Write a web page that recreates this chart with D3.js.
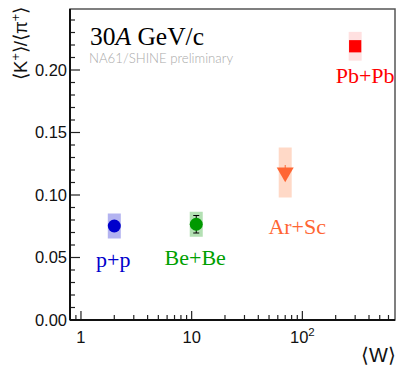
<!DOCTYPE html>
<html>
<head>
<meta charset="utf-8">
<script src="https://cdn.jsdelivr.net/npm/d3@7"></script>
<style>
  html, body { margin: 0; padding: 0; background: #fff; }
  svg { display: block; }
</style>
</head>
<body>
<div id="chart"></div>
<script>
// K+/pi+ ratio vs number of wounded nucleons, 30A GeV/c
const systems = ["p+p", "Be+Be", "Ar+Sc", "Pb+Pb"];
const wValues = [2.0, 11.0, 70, 300];
const ratio = [0.0752, 0.0766, 0.118, 0.219];
const statErr = [0.002, 0.007, 0.006, 0.002];
const sysErr = [0.010, 0.010, 0.020, 0.0115];
const xTickValues = [1, 10, 100];
const yTickValues = [0, 0.05, 0.10, 0.15, 0.20];

const colors = ["#0000cc", "#009900", "#ff6633", "#ff0000"];
const boxColors = ["#b3b3f0", "#b3e0b3", "#ffd9c7", "#ffe0e0"];
const labelColors = ["#0000cc", "#00a000", "#ff6633", "#ff0000"];

const width = 397, height = 367;
const margin = { top: 9, right: 2, bottom: 47, left: 70 };
const iw = width - margin.left - margin.right;
const ih = height - margin.top - margin.bottom;

const svg = d3.select("#chart").append("svg")
  .attr("width", width).attr("height", height);

const g = svg.append("g").attr("transform", `translate(${margin.left},${margin.top})`);

const x = d3.scaleLog().domain([0.796, 687]).range([0, iw]);
const y = d3.scaleLinear().domain([0, 0.2488]).range([ih, 0]);

// frame
g.append("rect")
  .attr("width", iw).attr("height", ih)
  .attr("fill", "none").attr("stroke", "#555").attr("stroke-width", 1.5);

// y axis, ticks pointing inward
const yMinor = d3.range(0, 0.245, 0.01);
g.append("g").selectAll("line").data(yMinor).enter().append("line")
  .attr("x1", 0).attr("x2", (d, i) => i % 5 === 0 ? 10 : 5)
  .attr("y1", d => y(d)).attr("y2", d => y(d))
  .attr("stroke", "#222").attr("stroke-width", 1.2);

g.append("g")
  .call(d3.axisLeft(y).tickValues(yTickValues).tickFormat(d3.format(".2f")).tickSize(0).tickPadding(3))
  .call(a => a.select(".domain").remove())
  .call(a => a.selectAll("text")
    .attr("font-family", "Liberation Sans, Arial, sans-serif")
    .attr("font-size", 16.5).attr("fill", "#111"));

// x axis, log ticks pointing inward
const xMinor = [];
[0.1, 1, 10, 100].forEach(dec => {
  for (let k = 1; k < 10; k++) {
    const v = dec * k;
    if (v >= 0.796 && v <= 687) xMinor.push(v);
  }
});
g.append("g").selectAll("line").data(xMinor).enter().append("line")
  .attr("x1", d => x(d)).attr("x2", d => x(d))
  .attr("y1", ih).attr("y2", d => ih - (xTickValues.includes(d) ? 9 : 5))
  .attr("stroke", "#222").attr("stroke-width", 1.2);

const xLabels = g.append("g").selectAll("text").data(xTickValues).enter().append("text")
  .attr("x", d => x(d)).attr("y", ih + 23)
  .attr("text-anchor", "middle")
  .attr("font-family", "Liberation Sans, Arial, sans-serif")
  .attr("font-size", 16.5).attr("fill", "#111");
xLabels.each(function (d) {
  const t = d3.select(this);
  if (d === 100) {
    t.append("tspan").text("10");
    t.append("tspan").attr("dy", -7).attr("font-size", 11.5).text("2");
  } else {
    t.text(d);
  }
});

// axis lines
g.append("line").attr("x1", 0).attr("x2", 0).attr("y1", 0).attr("y2", ih)
  .attr("stroke", "#111").attr("stroke-width", 2);
g.append("line").attr("x1", 0).attr("x2", iw).attr("y1", ih).attr("y2", ih)
  .attr("stroke", "#111").attr("stroke-width", 2);

// axis titles
svg.append("text")
  .attr("transform", "translate(27,7) rotate(-90)")
  .attr("text-anchor", "end")
  .attr("font-family", "Liberation Sans, Arial, sans-serif")
  .attr("font-size", 18.5).attr("fill", "#111")
  .html('⟨K<tspan dy="-7" font-size="12.5">+</tspan><tspan dy="7">⟩/⟨π</tspan><tspan dy="-7" font-size="12.5">+</tspan><tspan dy="7">⟩</tspan>');

svg.append("text")
  .attr("x", 396).attr("y", 362)
  .attr("text-anchor", "end")
  .attr("font-family", "Liberation Sans, Arial, sans-serif")
  .attr("font-size", 20).attr("fill", "#111")
  .text("⟨W⟩");

// header
svg.append("text")
  .attr("x", 90).attr("y", 45)
  .attr("font-family", "Liberation Serif, Times New Roman, serif")
  .attr("font-size", 25.5).attr("fill", "#000")
  .html('30<tspan font-style="italic">A</tspan> GeV/c');
svg.append("text")
  .attr("x", 89).attr("y", 63)
  .attr("font-family", "Lato, sans-serif").attr("font-weight", 300)
  .attr("font-size", 13.2).attr("fill", "#aaa")
  .text("NA61/SHINE preliminary");

// data
const pts = systems.map((s, i) => ({
  s, i, w: wValues[i], r: ratio[i], st: statErr[i], sy: sysErr[i]
}));
const boxW = 13;

g.selectAll(".sys").data(pts).enter().append("rect")
  .attr("x", d => x(d.w) - boxW / 2).attr("width", boxW)
  .attr("y", d => y(d.r + d.sy)).attr("height", d => y(d.r - d.sy) - y(d.r + d.sy))
  .attr("fill", d => boxColors[d.i]);

const stat = g.selectAll(".stat").data(pts).enter().append("g");
stat.append("line")
  .attr("x1", d => x(d.w)).attr("x2", d => x(d.w))
  .attr("y1", d => y(d.r + d.st)).attr("y2", d => y(d.r - d.st))
  .attr("stroke", (d) => d.i === 1 ? "#000" : colors[d.i]).attr("stroke-width", 1);
stat.filter(d => d.i === 1).selectAll("line.cap").data(d => [d.r + d.st, d.r - d.st].map(v => ({ w: d.w, v })))
  .enter().append("line")
  .attr("x1", d => x(d.w) - 3).attr("x2", d => x(d.w) + 3)
  .attr("y1", d => y(d.v)).attr("y2", d => y(d.v))
  .attr("stroke", "#000").attr("stroke-width", 1);

const symbols = [d3.symbolCircle, d3.symbolCircle, d3.symbolTriangle, d3.symbolSquare];
const sizes = [133, 133, 125, 150];
g.selectAll(".marker").data(pts).enter().append("path")
  .attr("transform", d => `translate(${x(d.w)},${y(d.r)})` + (d.i === 2 ? " rotate(180)" : ""))
  .attr("d", d => d3.symbol().type(symbols[d.i]).size(sizes[d.i])())
  .attr("fill", d => colors[d.i]);

// system labels
const labelDx = [-1, -1, 12, 10];
const labelDy = [41, 41, 61, 37];
g.selectAll(".lab").data(pts).enter().append("text")
  .attr("x", d => x(d.w) + labelDx[d.i]).attr("y", d => y(d.r) + labelDy[d.i])
  .attr("text-anchor", "middle")
  .attr("font-family", "Liberation Serif, Times New Roman, serif")
  .attr("font-size", 22).attr("fill", d => labelColors[d.i])
  .text(d => d.s);
</script>
</body>
</html>
